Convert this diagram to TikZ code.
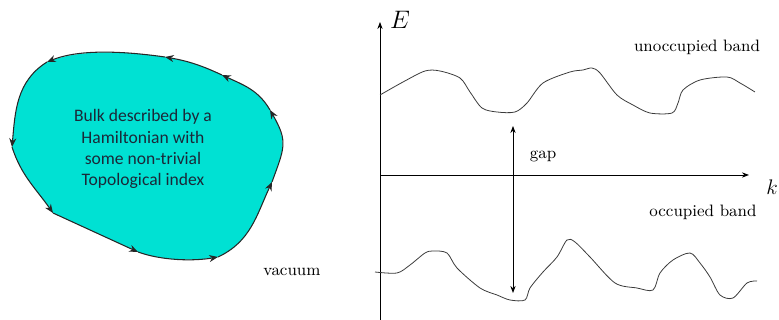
\documentclass[tikz,border=0pt]{standalone}
\usepackage{fontspec}
\newfontfamily\bulkfont{Carlito}
\usepackage{xcolor}
\usepackage{tikz}
\usetikzlibrary{arrows.meta, positioning, decorations.pathreplacing}
\definecolor{bulkfill}{HTML}{00E1D3}
\definecolor{bulktext}{HTML}{1B2838}
\definecolor{curvegray}{HTML}{3A3A3A}
\tikzset{
    edgetip/.style={
        -{Stealth[length=5pt,width=4pt]}, draw=black!85, line width=0.6pt
    },
    bulkregion/.style={
        fill=bulkfill,
        postaction={decorate},
        decoration={show path construction,
            lineto code={\draw[edgetip] (\tikzinputsegmentfirst) -- (\tikzinputsegmentlast);},
            curveto code={\draw[edgetip] (\tikzinputsegmentfirst) .. controls (\tikzinputsegmentsupporta) and (\tikzinputsegmentsupportb) .. (\tikzinputsegmentlast);},
            closepath code={}}
    },
    bulklab/.style={
        font=\bulkfont\fontsize{10}{12}\selectfont, text=bulktext, align=center
    },
    axisline/.style={
        -{Stealth[length=4pt,width=3pt]}, line width=0.5pt, color=black
    },
    bandline/.style={
        line width=0.45pt, color=curvegray
    },
    gaparrow/.style={
        {Stealth[length=4pt,width=3pt]}-{Stealth[length=4pt,width=3pt]}, line width=0.5pt
    },
    bandlab/.style={
        font=\fontsize{9.4}{11}\selectfont, text=black
    },
}

\begin{document}
\begin{tikzpicture}[x=0.02cm, y=-0.02cm]

    \useasboundingbox (0,0) rectangle (779,320);

    % ── Bulk region ──
    \path[bulkregion] (53,213) -- (138,252)
        to[out=-20, in=190, looseness=0.8] (218,257)
        to[out=25, in=245] (272,182)
        to[out=70, in=-60, looseness=1.3] (270,110)
        to[out=120, in=-25] (222,75)
        to[out=155, in=-10] (165,57)
        to[out=172, in=22, looseness=0.8] (47,62)
        to[out=212, in=85] (12,147)
        to[out=-72, in=125] (53,213) -- cycle;
    \node[bulklab] (bulk) at (143,149) {Bulk described by a\\Hamiltonian with\\some non-trivial\\Topological index};
    \node[bandlab] (vacuum) at (292,272) {vacuum};

    % ── Axes ──
    \coordinate (origin) at (380,175);
    \coordinate (ebot) at (380,320);
    \coordinate (etip) at (380,22);
    \coordinate (ktip) at (749,175);
    \draw[axisline] (ebot) -- (etip);
    \draw[axisline] (origin) -- (ktip);
    \node[font=\Large] (elab) at (400,20) {$E$};
    \node[font=\large] (klab) at (772,187) {$k$};

    % ── Bands ──
    \draw[bandline] plot[smooth, tension=0.5] coordinates {
        (380,95) (403,82) (425,71) (440,71) (460,78) (470,92) (482,108)
        (497,112) (515,112) (527,103) (543,83) (570,72) (583,70) (592,68)
        (600,73) (617,95) (633,105) (650,113) (672,113) (678,103) (683,90)
        (700,80) (727,77) (740,83) (755,92)};
    \draw[bandline] plot[smooth, tension=0.5] coordinates {
        (375,272) (397,273) (410,265) (425,253) (433,251) (447,253) (457,268)
        (480,288) (497,295) (510,300) (525,300) (530,288) (543,272) (557,257)
        (567,240) (575,242) (590,257) (615,283) (637,288) (653,290) (660,273)
        (673,260) (690,253) (700,263) (710,277) (720,295) (733,298) (747,283)
        (757,281)};
    \node[bandlab] (unocc) at (697,47) {unoccupied band};
    \node[bandlab] (occ) at (703,212) {occupied band};

    % ── Gap ──
    \coordinate (gaptop) at (513,126);
    \coordinate (gapbot) at (513,293);
    \draw[gaparrow] (gapbot) -- (gaptop);
    \node[bandlab] (gaplab) at (543,156) {gap};

\end{tikzpicture}
\end{document}
